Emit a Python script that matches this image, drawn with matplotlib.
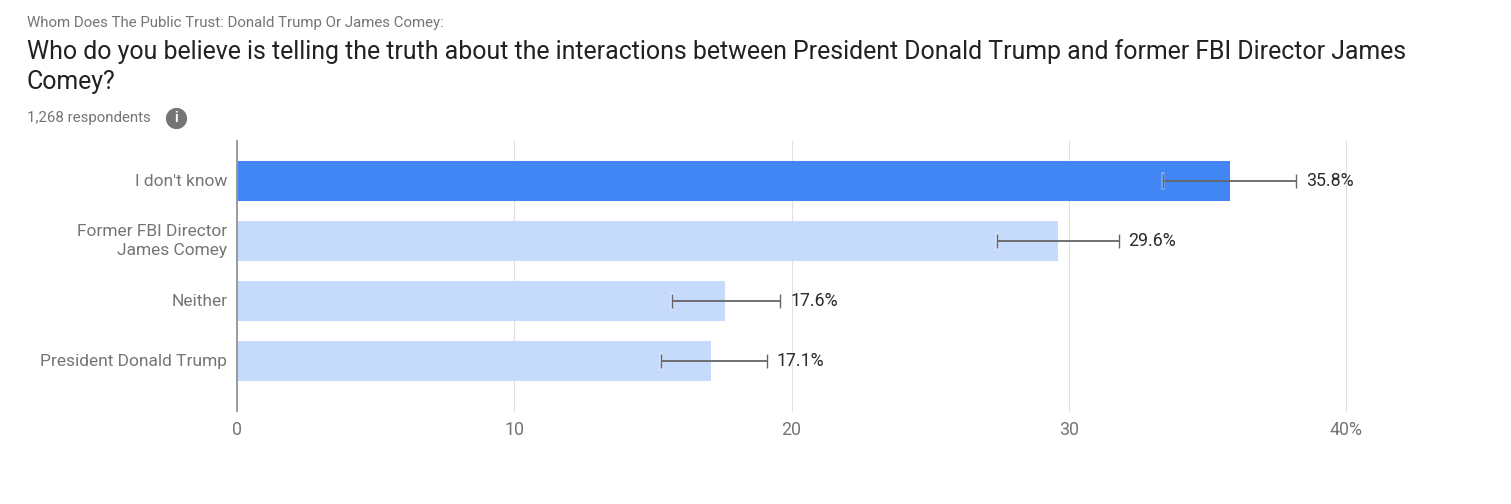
import matplotlib
matplotlib.use('Agg')
import matplotlib.pyplot as plt

plt.rcParams['font.family'] = ['Roboto', 'DejaVu Sans']

# data
categories = ["I don't know", 'Former FBI Director\nJames Comey', 'Neither', 'President Donald Trump']
values = [35.8, 29.6, 17.6, 17.1]
err_low = [33.4, 27.4, 15.7, 15.3]
err_high = [38.2, 31.8, 19.6, 19.1]
value_labels = ['35.8%', '29.6%', '17.6%', '17.1%']
x_ticks = [0, 10, 20, 30, 40]
x_tick_labels = ['0', '10', '20', '30', '40%']
bar_colors = ['#4285f4', '#c6dafc', '#c6dafc', '#c6dafc']

W, H = 1511, 504
GRAY = '#757575'
DARK = '#212121'

fig = plt.figure(figsize=(W / 100, H / 100), dpi=100, facecolor='white')

# axes box in pixels of the original picture
left, right, top, bottom = 237, 1346, 141, 411
ax = fig.add_axes([left / W, 1 - bottom / H, (right - left) / W, (bottom - top) / H])

y = list(range(len(categories)))
ax.barh(y, values, height=40 / 60, color=bar_colors, zorder=2)

# the lower caps have a faint halo in the original
ax.scatter(err_low, y, marker='|', s=180, linewidths=2.6, color='white', alpha=0.3, zorder=3)

# error bars
lower = [v - l for v, l in zip(values, err_low)]
upper = [h - v for v, h in zip(values, err_high)]
ax.errorbar(values, y, xerr=[lower, upper], fmt='none', ecolor='#666666',
            elinewidth=1.3, capsize=4.7, capthick=1.0, zorder=4, clip_on=False)

for yy, high, lab in zip(y, err_high, value_labels):
    ax.annotate(lab, (high, yy), xytext=(7, 0), textcoords='offset points',
                va='center', ha='left', fontsize=12.8, color='#2b2b2b', zorder=5)

ax.set_xlim(0, 40)
ax.set_ylim(3.8333, -0.6667)
ax.set_xticks(x_ticks)
ax.set_xticklabels(x_tick_labels, fontsize=12.8, color=GRAY)
ax.set_yticks(y)
ax.set_yticklabels(categories, fontsize=12.5, color=GRAY, linespacing=1.36, va='center')
ax.tick_params(axis='both', length=0)
ax.tick_params(axis='y', pad=7.0)
ax.tick_params(axis='x', pad=7.5)

for g in x_ticks[1:]:
    ax.axvline(g, color='#e0e0e0', lw=0.8, zorder=1, clip_on=False)

for s in ['top', 'right', 'bottom']:
    ax.spines[s].set_visible(False)
ax.spines['left'].set_color('#9a9a9a')
ax.spines['left'].set_linewidth(1.4)
ax.spines['left'].set_zorder(6)

# header text
fig.text(27 / W, 1 - 22.5 / H, 'Whom Does The Public Trust: Donald Trump Or James Comey:',
         fontsize=10.78, color=GRAY, va='center', ha='left')
fig.text(27 / W, 1 - 52 / H,
         'Who do you believe is telling the truth about the interactions between President Donald Trump and former FBI Director James',
         fontsize=17.95, color=DARK, va='center', ha='left')
fig.text(27 / W, 1 - 82.5 / H, 'Comey?', fontsize=17.95, color=DARK, va='center', ha='left')
fig.text(27 / W, 1 - 117.5 / H, '1,268 respondents', fontsize=10.85, color=GRAY, va='center', ha='left')
fig.text(176.5 / W, 1 - 118.5 / H, 'i', fontsize=10, fontweight='bold', color='white', va='center', ha='center',
         bbox=dict(boxstyle='circle,pad=0.26', fc=GRAY, ec='none'))

fig.savefig('out.png', dpi=100, facecolor='white')
